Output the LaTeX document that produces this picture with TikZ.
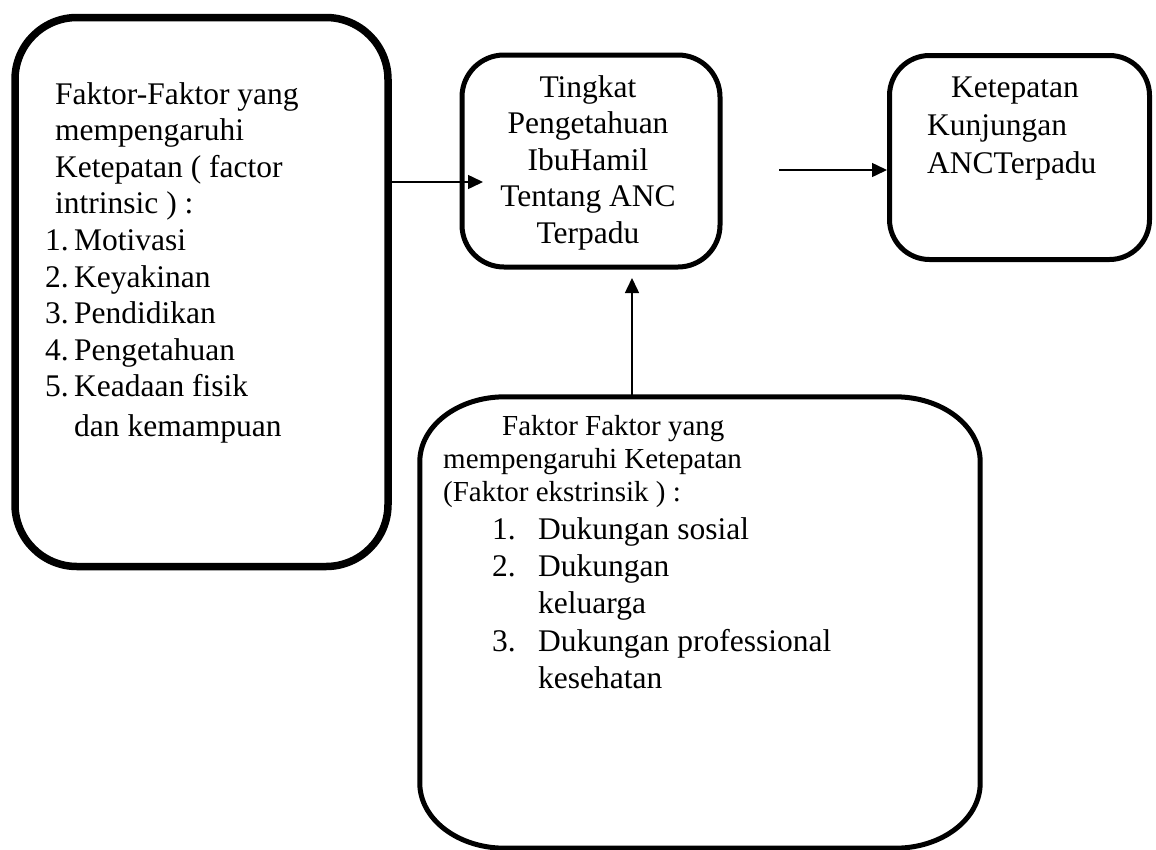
\documentclass[tikz,border=0pt]{standalone}
\usepackage{fontspec}
\setmainfont{Liberation Serif}
\usetikzlibrary{arrows.meta,calc}
\begin{document}
\begin{tikzpicture}[x=1pt,y=-1pt,
  box/.style={draw, line width=5pt, rounded corners=42pt, inner sep=0pt},
  arr/.style={line width=1.5pt, -{Triangle[length=15pt,width=14pt]}},
  txt/.style={inner sep=0pt, anchor=base west, font=\fontsize{31.5}{36.6}\selectfont},
  txtr/.style={inner sep=0pt, anchor=base west, font=\fontsize{31.5}{38.2}\selectfont},
  txtb/.style={inner sep=0pt, anchor=base west, font=\fontsize{31.5}{37.4}\selectfont},
  txts/.style={inner sep=0pt, anchor=base west, font=\fontsize{29}{33.2}\selectfont}]
\useasboundingbox (0,0) rectangle (1156,849);
\clip (0,0) rectangle (1156,849);
% boxes
\node[box, line width=7.5pt, rounded corners=62pt, minimum width=373pt, minimum height=549pt] (lbox) at (201.5,292) {};
\node[box, minimum width=258pt, minimum height=212pt] (mid) at (591,161) {};
\node[box, rounded corners=40pt, minimum width=260pt, minimum height=204pt] (rbox) at (1019.5,157.5) {};
\node[inner sep=0pt, minimum width=560pt, minimum height=451pt] (bot) at (700,622.5) {};
\draw[line width=5pt]
  ($(bot.north west)+(85,0)$) -- ($(bot.north east)+(-85,0)$)
  arc[start angle=-90, end angle=0, x radius=85, y radius=65]
  -- ($(bot.south east)+(0,-65)$)
  arc[start angle=0, end angle=90, x radius=85, y radius=65]
  -- ($(bot.south west)+(85,0)$)
  arc[start angle=90, end angle=180, x radius=85, y radius=65]
  -- ($(bot.north west)+(0,65)$)
  arc[start angle=180, end angle=270, x radius=85, y radius=65]
  -- cycle;
% texts
\node[txt] (ltext) at (55,104) {\begin{tabular}[t]{@{}l@{}}
Faktor-Faktor yang\\
mempengaruhi\\
Ketepatan ( factor\\
intrinsic ) :\\
\hspace*{-10pt}\makebox[29pt][l]{1.}Motivasi\\
\hspace*{-10pt}\makebox[29pt][l]{2.}Keyakinan\\
\hspace*{-10pt}\makebox[29pt][l]{3.}Pendidikan\\
\hspace*{-10pt}\makebox[29pt][l]{4.}Pengetahuan\\
\hspace*{-10pt}\makebox[29pt][l]{5.}Keadaan fisik\\[3pt]
\hspace*{19pt}dan kemampuan
\end{tabular}};
\node[txt, anchor=base] (mtext) at (588,97) {\begin{tabular}[t]{@{}c@{}}
Tingkat\\ Pengetahuan\\ IbuHamil\\ Tentang ANC\\ Terpadu
\end{tabular}};
\node[txtr] (rtext) at (927,97) {\begin{tabular}[t]{@{}l@{}}
\hspace*{24pt}Ketepatan\\ Kunjungan\\ ANCTerpadu
\end{tabular}};
\node[txts] (btext) at (443,435) {\begin{tabular}[t]{@{}l@{}}
\hspace*{59pt}Faktor Faktor yang\\
mempengaruhi Ketepatan\\
(Faktor ekstrinsik ) :
\end{tabular}};
\node[txtb] (bitems) at (492,539) {\begin{tabular}[t]{@{}l@{}}
\makebox[46pt][l]{1.}Dukungan sosial\\
\makebox[46pt][l]{2.}Dukungan\\
\hspace*{46pt}keluarga\\
\makebox[46pt][l]{3.}Dukungan professional\\
\hspace*{46pt}kesehatan
\end{tabular}};
% connectors
\coordinate (a1) at (483,182);
\draw[arr] (lbox.east |- a1) -- (a1);
\coordinate (a2) at (779,170);
\draw[arr] (a2) -- (a2 -| rbox.west);
\coordinate (a3) at (632,278);
\draw[arr] (a3 |- bot.north) -- (a3);
\end{tikzpicture}
\end{document}
